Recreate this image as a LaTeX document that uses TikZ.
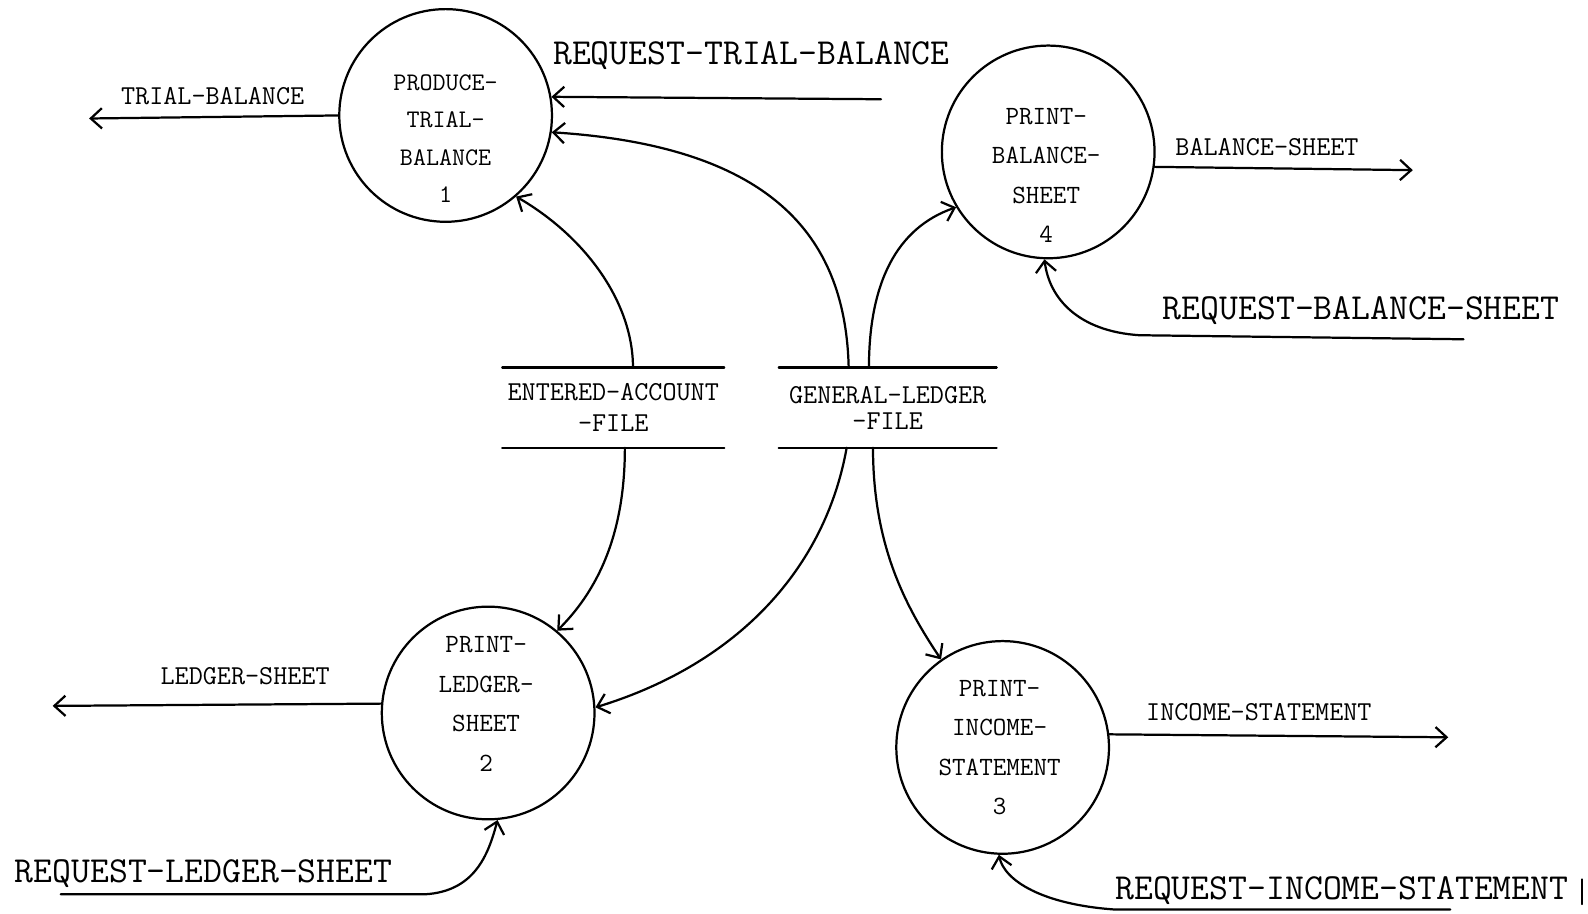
\documentclass[tikz,border=0pt]{standalone}
\usepackage{fontspec}
\usetikzlibrary{arrows.meta}
\begin{document}
\begin{tikzpicture}[x=1pt,y=-1pt,
  line width=2.2pt, line cap=round, line join=round,
  flow/.style={-{Straight Barb[length=11pt,width=20pt]}},
  process/.style={draw, circle, minimum size=210pt, inner sep=0pt},
  proctext/.style={align=center, inner sep=0pt, font=\ttfamily\fontsize{26}{39}\selectfont},
  store/.style={minimum width=#1, minimum height=77pt, inner sep=0pt, align=center,
    font=\ttfamily\fontsize{27}{31}\selectfont},
  small/.style={inner sep=0pt, font=\ttfamily\fontsize{27}{30}\selectfont},
  big/.style={inner sep=0pt, font=\ttfamily\fontsize{36.2}{40}\selectfont}]

\useasboundingbox (0,0) rectangle (1568,902);

% processes
\node[process] (p1) at (440,114) {};
\node[proctext, font=\ttfamily\fontsize{25}{37}\selectfont] (t1) at (440,137) {PRODUCE-\\TRIAL-\\BALANCE\\1};
\node[process] (p4) at (1035,150) {};
\node[proctext] (t4) at (1033,173) {PRINT-\\BALANCE-\\SHEET\\4};
\node[process] (p2) at (482,704) {};
\node[proctext] (t2) at (480,695) {PRINT-\\LEDGER-\\SHEET\\2};
\node[process] (p3) at (990,738) {};
\node[proctext] (t3) at (987,738) {PRINT-\\INCOME-\\STATEMENT\\3};

% data stores
\node[store=217pt] (eaf) at (605.5,402.5) {ENTERED-ACCOUNT\\-FILE};
\node[store=213pt, font=\ttfamily\fontsize{27}{26}\selectfont] (glf) at (876.5,402.5) {GENERAL-LEDGER\\-FILE};
\foreach \s in {eaf,glf} {
  \draw (\s.north west) -- (\s.north east);
  \draw (\s.south west) -- (\s.south east);
}

% external ends
\coordinate (tbout) at (88,117);
\coordinate (rtbin) at (870,98);
\coordinate (bsout) at (1395,168);
\coordinate (rbsin) at (1445,335);
\coordinate (lsout) at (52,697);
\coordinate (rlsin) at (60,883);
\coordinate (isout) at (1430,728);
\coordinate (risin) at (1432,898);

% flows
\draw[flow] (p1.west) -- (tbout);
\draw[flow] (rtbin) -- (p1.10);
\draw[flow] ([xshift=-38.5pt]glf.north) .. controls (835,240) and (770,145) .. (p1.-9);
\draw[flow] ([xshift=19.5pt]eaf.north) .. controls (625,300) and (580,235) .. (p1.-49);
\draw[flow] ([xshift=-18.5pt]glf.north) .. controls (858,280) and (885,225) .. (p4.211);
\draw[flow] (p4.-8) -- (bsout);
\draw[flow] (rbsin) -- (1125,331) .. controls (1065,327) and (1036,295) .. (p4.-92);
\draw[flow] ([xshift=11.5pt]eaf.south) .. controls (617,520) and (595,578) .. (p2.50);
\draw[flow] ([xshift=-40.5pt]glf.south) .. controls (815,560) and (730,655) .. (p2.3);
\draw[flow] ([xshift=-14.5pt]glf.south) .. controls (862,540) and (895,600) .. (p3.125);
\draw[flow] (p2.175) -- (lsout);
\draw[flow] (rlsin) -- (420,883) .. controls (468,880) and (482,845) .. (p2.-85);
\draw[flow] (p3.7) -- (isout);
\draw[flow] (risin) -- (1100,898) .. controls (1030,893) and (992,870) .. (p3.-92);

% flow labels
\node[small] (ltb) at (210,95) {TRIAL-BALANCE};
\node[big] (lrtb) at (742,55) {REQUEST-TRIAL-BALANCE};
\node[small] (lbs) at (1251,145) {BALANCE-SHEET};
\node[big] (lrbs) at (1344,307) {REQUEST-BALANCE-SHEET};
\node[small] (lls) at (242,668) {LEDGER-SHEET};
\node[big] (lrls) at (201,863) {REQUEST-LEDGER-SHEET};
\node[small] (lis) at (1243,703) {INCOME-STATEMENT};
\node[big] (lris) at (1325,879) {REQUEST-INCOME-STATEMENT};
\draw[line width=1.2pt] (1562,868) -- (1562,893);
\end{tikzpicture}
\end{document}
